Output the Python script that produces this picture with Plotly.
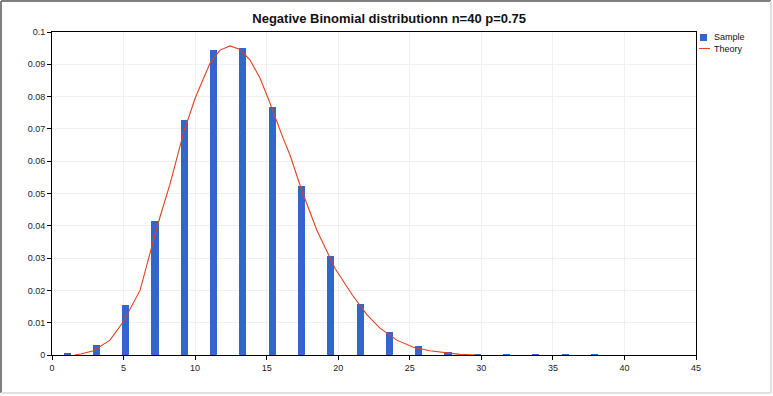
import plotly.graph_objects as go

# ---- data ----
bin_centers = [1.06, 3.11, 5.15, 7.2, 9.25, 11.29, 13.34, 15.39, 17.43, 19.48,
               21.53, 23.58, 25.62, 27.67, 29.72, 31.76, 33.81, 35.86, 37.9]
sample_vals = [0.0004, 0.0032, 0.0155, 0.0416, 0.0728, 0.0944, 0.0950, 0.0769, 0.0523, 0.0307,
               0.0158, 0.0072, 0.0028, 0.0009, 0.0003, 0.0002, 0.0002, 0.0002, 0.0002]

theory_x = [1.6, 2.0, 2.9, 4.05, 4.98, 6.15, 6.85, 7.55, 8.25, 9.18, 10.0, 11.04, 11.74,
            12.44, 13.14, 13.84, 14.54, 15.1, 16.16, 16.63, 17.45, 18.5, 19.78, 21.0,
            22.0, 22.92, 24.09, 25.25, 26.4, 27.58, 28.5, 29.7]
theory_y = [0.0, 0.0003, 0.0013, 0.0046, 0.0103, 0.020, 0.0315, 0.0428, 0.053, 0.0686,
            0.0795, 0.0903, 0.0944, 0.0957, 0.0946, 0.0913, 0.0857, 0.0795, 0.067, 0.0619,
            0.051, 0.0387, 0.0268, 0.0185, 0.0125, 0.0083, 0.0046, 0.0024, 0.0013, 0.0007,
            0.0002, 0.0]

series_names = ["Sample", "Theory"]
title_text = "Negative Binomial distributionn n=40 p=0.75"

FONT = "Liberation Sans, Arial, sans-serif"
BAR_COLOR = "#3366CC"
LINE_COLOR = "#E2401E"

fig = go.Figure()
fig.add_trace(go.Bar(x=bin_centers, y=sample_vals, name=series_names[0], width=0.5,
                     marker=dict(color=BAR_COLOR, line=dict(width=0))))
fig.add_trace(go.Scatter(x=theory_x, y=theory_y, name=series_names[1], mode="lines",
                         line=dict(color=LINE_COLOR, width=1.1)))

axis_common = dict(showline=True, linecolor="black", linewidth=1, mirror=True,
                   ticks="outside", ticklen=4, tickcolor="black",
                   showgrid=True, gridcolor="#F0F0F0", gridwidth=1,
                   zeroline=False, tickfont=dict(family=FONT, size=9, color="#222222"))

fig.update_layout(
    width=773, height=396,
    margin=dict(l=52, r=77, t=32, b=41, autoexpand=False),
    paper_bgcolor="white", plot_bgcolor="white",
    title=dict(text="<b>" + title_text + "</b>", x=0.5035, xref="container", xanchor="center",
               y=1 - 18 / 396, yref="container", yanchor="middle",
               font=dict(family=FONT, size=13, color="#111111")),
    xaxis=dict(range=[0, 45], dtick=5, tick0=0, **axis_common),
    yaxis=dict(range=[0, 0.1], dtick=0.01, tick0=0, **axis_common),
    bargap=0,
    showlegend=False,
)

def px_to_paper_x(px):
    return (px - 52) / 644.0

def px_to_paper_y(py):
    return (355 - py) / 323.0

# custom compact legend (like the reference)
fig.add_shape(type="rect", xref="paper", yref="paper",
              x0=px_to_paper_x(700), x1=px_to_paper_x(707),
              y0=px_to_paper_y(41), y1=px_to_paper_y(34),
              fillcolor=BAR_COLOR, line=dict(width=0))
fig.add_shape(type="line", xref="paper", yref="paper",
              x0=px_to_paper_x(699), x1=px_to_paper_x(710),
              y0=px_to_paper_y(48.5), y1=px_to_paper_y(48.5),
              line=dict(color=LINE_COLOR, width=1))
for name, py in zip(series_names, [37.5, 48.5]):
    fig.add_annotation(text=name, xref="paper", yref="paper",
                       x=px_to_paper_x(712), y=px_to_paper_y(py),
                       xanchor="left", yanchor="middle", showarrow=False,
                       font=dict(family=FONT, size=9, color="#111111"))

# window frame (dark top/left, light bottom/right)
frame = [
    (1, 1, 1, 393, "#808080"),
    (1, 1, 771, 1, "#808080"),
    (771, 1, 771, 393, "#E0E0E0"),
    (1, 393, 771, 393, "#E0E0E0"),
]
for x0, y0, x1, y1, c in frame:
    fig.add_shape(type="line", xref="paper", yref="paper",
                  x0=px_to_paper_x(x0), y0=px_to_paper_y(y0),
                  x1=px_to_paper_x(x1), y1=px_to_paper_y(y1),
                  line=dict(color=c, width=2), layer="above")

fig.write_html("out.html",
               config={"displayModeBar": False},
               post_script="document.body.style.margin='0';document.body.style.overflow='hidden';")
